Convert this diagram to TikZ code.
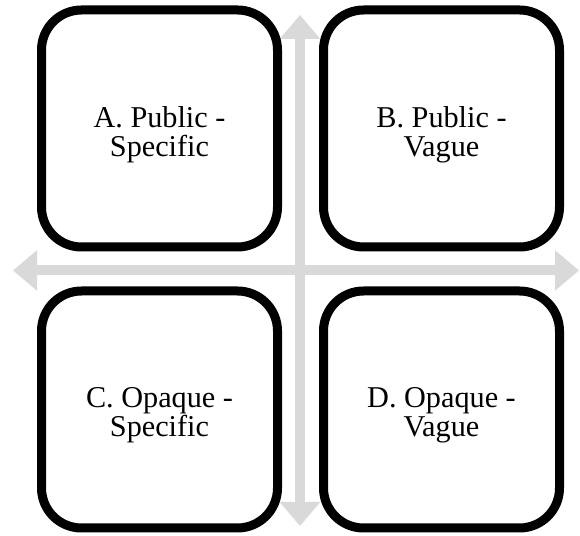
\documentclass[tikz,border=0pt]{standalone}
\usepackage{fontspec}
\setmainfont{Liberation Serif}
\usetikzlibrary{arrows.meta}
\definecolor{axisGray}{RGB}{217,217,217}
\begin{document}
\begin{tikzpicture}[x=0.025cm,y=-0.025cm,
    quadAx/.style={axisGray,line width=10*0.025cm,
        {Triangle[width=39*0.025cm,length=24*0.025cm]}-{Triangle[width=39*0.025cm,length=24*0.025cm]}},
    quadBox/.style={draw=black,fill=white,line width=9*0.025cm,rounded corners=40*0.025cm,
        minimum width=236*0.025cm,minimum height=237*0.025cm},
    quadText/.style={align=center,yshift=-6*0.025cm,font=\fontsize{21.5}{20.5}\selectfont},
]
\useasboundingbox (0,0) rectangle (580,536);
% Axis ends
\coordinate (axW) at (13,270.5);
\coordinate (axE) at (579,270.5);
\coordinate (axN) at (300,15);
\coordinate (axS) at (300,526);
\draw[quadAx] (axW) -- (axE);
\draw[quadAx] (axN) -- (axS);
% Quadrants
\node[quadBox,label={[quadText]center:A. Public -\\Specific}] (qA) at (159.5,128.5) {};
\node[quadBox,label={[quadText]center:B. Public -\\Vague}] (qB) at (441.5,128.5) {};
\node[quadBox,label={[quadText]center:C. Opaque -\\Specific}] (qC) at (159.5,409.5) {};
\node[quadBox,label={[quadText]center:D. Opaque -\\Vague}] (qD) at (441.5,409.5) {};
\end{tikzpicture}
\end{document}
